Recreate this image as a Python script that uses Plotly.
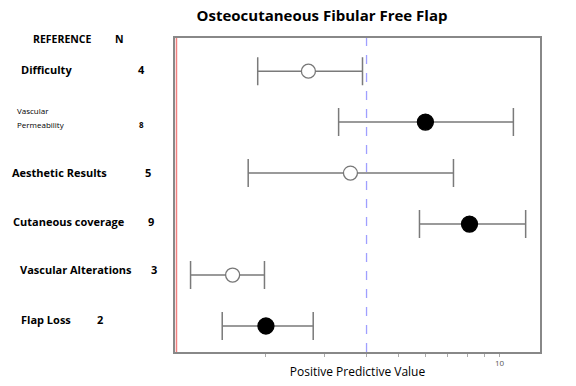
import plotly.graph_objects as go

categories = ["Difficulty", "Vascular Permeability", "Aesthetic Results",
              "Cutaneous coverage", "Vascular Alterations", "Flap Loss"]
n_values = ["4", "8", "5", "9", "3", "2"]
ppv = [2.68, 6.00, 3.58, 8.13, 1.59, 2.00]
ci_low = [1.89, 3.30, 1.77, 5.76, 1.19, 1.48]
ci_high = [3.89, 11.0, 7.28, 11.97, 1.98, 2.77]
filled = [False, True, False, True, False, True]
ref_line = 4.0
tick_vals = [2, 3, 4, 5, 6, 7, 8, 9, 10]
tick_text = ["", "", "", "", "", "", "", "", "10"]

W, H = 576, 386
L, R, T, B = 175, 540, 38, 352

fig = go.Figure()

for is_filled in (False, True):
    idx = [i for i in range(len(categories)) if filled[i] == is_filled]
    fig.add_trace(go.Scatter(
        x=[ppv[i] for i in idx],
        y=[categories[i] for i in idx],
        mode="markers",
        marker=dict(
            size=16 if is_filled else 14,
            color="black" if is_filled else "white",
            line=dict(color="black" if is_filled else "#777777", width=1.3),
        ),
        error_x=dict(
            type="data", symmetric=False,
            array=[ci_high[i] - ppv[i] for i in idx],
            arrayminus=[ppv[i] - ci_low[i] for i in idx],
            color="#7a7a7a", thickness=1.5, width=14,
        ),
        showlegend=False,
    ))

fig.add_vline(x=ref_line, line=dict(color="#9f9fff", width=1.3, dash="dash"))
fig.add_vline(x=1.08, line=dict(color="#f08080", width=1.5))

def px(xp):
    return (xp - L) / (R - L)

def py(yp):
    return (B - yp) / (B - T)

ann = []
def add(text, x, y, size=11, anchor="left", weight="bold"):
    ann.append(dict(text=text, x=px(x), y=py(y), xref="paper", yref="paper",
                    showarrow=False, xanchor=anchor, yanchor="middle",
                    font=dict(family="Open Sans, DejaVu Sans", size=size,
                              color="black", weight=weight)))

add("REFERENCE", 31, 39, 10.5)
add("N", 113, 39, 10.5)
add("Difficulty", 19, 69)
add("Vascular", 15, 111, 8, weight="normal")
add("Permeability", 15, 124, 8, weight="normal")
add("Aesthetic Results", 10, 172)
add("Cutaneous coverage", 11, 221)
add("Vascular Alterations", 18, 269)
add("Flap Loss", 19, 319)
add(n_values[0], 136, 69)
add(n_values[1], 137, 124, 8)
add(n_values[2], 143, 172)
add(n_values[3], 146, 221)
add(n_values[4], 149, 269)
add(n_values[5], 95, 319)

fig.update_layout(
    width=W, height=H,
    margin=dict(l=L, r=W - R, t=T, b=H - B, autoexpand=False),
    paper_bgcolor="white", plot_bgcolor="white",
    title=dict(text="<b>Osteocutaneous Fibular Free Flap</b>", x=322 / W, xanchor="center",
               y=1 - 16 / H, yanchor="middle",
               font=dict(family="Open Sans, DejaVu Sans", size=15, color="black")),
    annotations=ann,
    xaxis=dict(type="log", range=[0.029, 1.121], automargin=False,
               tickvals=tick_vals, ticktext=tick_text,
               ticks="outside", ticklen=3, tickcolor="#aaaaaa",
               tickfont=dict(size=8, color="#555555", family="Open Sans"),
               showgrid=False, zeroline=False,
               showline=True, linecolor="#888888", linewidth=1.5, mirror=True,
               title=dict(text="Positive Predictive Value", standoff=0,
                          font=dict(family="Open Sans, DejaVu Sans", size=12, color="black"))),
    yaxis=dict(type="category", categoryorder="array", automargin=False,
               categoryarray=list(reversed(categories)),
               range=[-0.51, 5.65], showticklabels=False, ticks="",
               showgrid=False, zeroline=False,
               showline=True, linecolor="#888888", linewidth=1.5, mirror=True),
)

fig.write_html("out.html", config={"displayModeBar": False},
               post_script="document.body.style.margin='0';document.body.style.padding='0';")
